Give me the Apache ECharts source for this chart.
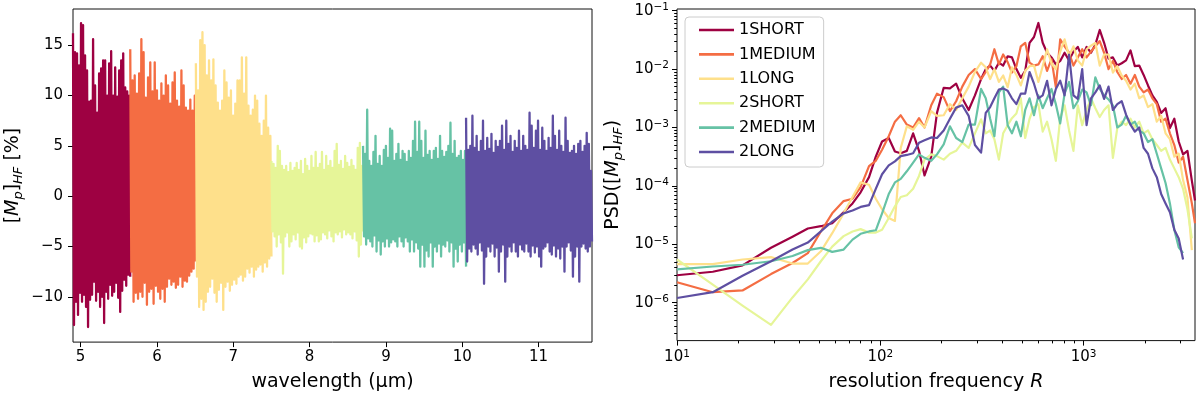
<!DOCTYPE html>
<html>
<head>
<meta charset="utf-8">
<script src="https://cdn.jsdelivr.net/npm/echarts@6/dist/echarts.min.js"></script>
<style>
html, body { margin: 0; background: #fff; }
#chart { width: 1200px; height: 399px; }
</style>
</head>
<body>
<div id="chart"></div>
<script>
// detector bands
var bandNames = ['1SHORT', '1MEDIUM', '1LONG', '2SHORT', '2MEDIUM', '2LONG'];
var bandColors = ['#9e0142', '#f46d43', '#fee08b', '#e6f598', '#66c2a5', '#5e4fa2'];
// band edges in µm
var wlEdges = [4.90, 5.65, 6.51, 7.50, 8.70, 10.05, 11.70];

// left panel: high-frequency residual [%], peaks and troughs read per band
var band1Top = [16.2, 14.3, 14.2, 13, 17.2, 17, 14, 12.5, 9.4, 9.5, 15.6, 11, 8.3, 12.2, 12.7, 13.5, 13.5, 10, 13.2, 14.4, 10, 12.8, 9.9, 12.5, 13.5, 14.2, 10.8, 10.4, 10];
var band1Bottom = [-12.8, -10.5, -11.8, -9.6, -10.5, -9.8, -11, -13, -10.3, -9.8, -8.5, -10.4, -9.5, -11, -10, -12.6, -9.5, -10.2, -8.8, -9.9, -9.5, -8.6, -10.1, -11.5, -9.4, -8.3, -8.9, -7.8, -8];
var band2Top = [14.6, 11.5, 12, 10.2, 12.2, 15.6, 14.3, 9.8, 11.8, 13.3, 10.4, 13.3, 10.5, 9.5, 11.2, 10, 12, 11, 9.2, 11.3, 12.3, 9.5, 8.9, 12.5, 11, 8.8, 8.5, 9.6, 8.5, 10];
var band2Bottom = [-7.5, -10.5, -9.6, -10.2, -9.5, -10, -8.6, -10.8, -9.5, -9.2, -10.7, -8.9, -9.5, -10.2, -9.2, -10.5, -9, -8.2, -8.8, -8.5, -9.1, -8.8, -8, -9, -8.4, -8.5, -7.9, -7.5, -7.2, -6.5];
var band3Top = [13.2, 10.5, 15.5, 16.3, 15, 12, 13.5, 11.5, 13.6, 11, 9.3, 8.5, 9.5, 12.5, 11.3, 9.8, 10.5, 8, 9.2, 11.5, 11.5, 13.8, 10.2, 13.8, 9, 8, 8.6, 10, 9.5, 7.2, 6, 7.5, 10, 6.8, 6];
var band3Bottom = [-8, -11, -10.2, -11.3, -10.5, -9.5, -9, -8.2, -9.6, -10.5, -9.3, -8.6, -11.3, -9, -8.5, -9.4, -8.8, -8.3, -8.7, -8, -7.8, -8.4, -8, -7.2, -7.6, -7, -8, -7.3, -7, -6.8, -7.5, -6.6, -7, -6.2, -6];
var band4Top = [3.5, 3.2, 2.8, 5, 4.5, 3, 2.6, 3, 2.4, 3.3, 2.5, 2.8, 3.3, 2.6, 3.5, 2.2, 3.7, 3, 2.5, 4, 2.8, 4.4, 2.8, 3.2, 4.4, 2.6, 4, 3, 3.5, 2.8, 4.5, 5.2, 3.1, 3.5, 2.7, 4, 3.3, 2.9, 3.6, 3, 2.6, 4.8, 5.3, 3];
var band4Bottom = [-3.5, -4, -5, -3.8, -4.6, -7.7, -4, -3.6, -5, -4.5, -3.8, -4.3, -3.6, -5, -5.2, -4.1, -4.6, -4, -3.7, -3.8, -4.5, -3.9, -4.5, -4.3, -3.6, -3.8, -4.2, -3.4, -4, -4.5, -3.6, -3.8, -3.5, -4.1, -3.3, -3.8, -3.6, -3.8, -4.2, -3.5, -4.4, -6, -4.8, -3.5];
var band5Top = [5, 4.2, 8.6, 3.5, 3, 4.4, 6, 3.2, 4, 3, 4.6, 5, 3.8, 6.7, 6.5, 3.5, 4.2, 5.2, 3.6, 4.5, 4.2, 3.4, 4.5, 3.8, 5.5, 7.4, 4.4, 7.4, 5.5, 3.8, 6.5, 4.1, 4.5, 3.6, 4.5, 4.8, 3.7, 6, 4.5, 3.9, 4.4, 5, 7.3, 4.2, 5.5, 3.8, 4, 4.5, 3.6, 4.5];
var band5Bottom = [-4, -4.8, -4.2, -4.5, -5, -3.9, -5.5, -4.4, -5.8, -4.5, -5, -4.2, -5, -4.6, -4.3, -4.5, -5, -4, -4.5, -5, -4.1, -4.5, -5.5, -4.3, -5.5, -4.6, -5.2, -7, -4.8, -7, -5.4, -6, -4.6, -7, -5, -5.5, -4.7, -6, -4.8, -5, -4.4, -5.5, -4.6, -7, -5.2, -6.5, -4.8, -5.5, -4.6, -7];
var band6Top = [7.8, 4.6, 5, 8, 4.8, 6, 4.4, 5.5, 7.5, 4.5, 5.8, 4.7, 6.2, 4.3, 5.5, 4.9, 5.5, 7, 4.6, 7.5, 5.2, 6, 4.4, 5.5, 4.8, 6.5, 4.5, 6, 5, 4.6, 8.3, 7, 4.8, 6.5, 7.5, 4.6, 6.8, 5.5, 4.5, 5.8, 4.8, 8, 6, 4.6, 6.5, 5, 4.4, 7.8, 5.5, 4.3, 4.5, 5, 4.2, 5.2, 5.5, 4.4, 5, 6.3, 5.2, 2.5];
var band6Bottom = [-6.5, -5.2, -5.5, -4.8, -5.2, -5.8, -4.6, -5.4, -8.7, -6, -5, -5.5, -4.7, -6, -5.1, -7.5, -5.5, -4.8, -8.5, -6, -5, -5.5, -4.6, -5.5, -6, -4.8, -5.3, -5.5, -4.7, -5.5, -6, -4.9, -5.6, -5, -6, -7, -5.2, -5, -4.6, -5.5, -5.8, -4.9, -6, -5.2, -6.2, -5, -7.5, -5, -4.6, -5.4, -8, -6, -5, -8.5, -5, -4.7, -5.2, -5.5, -5, -4.5];

var bandTops = [band1Top, band2Top, band3Top, band4Top, band5Top, band6Top];
var bandBottoms = [band1Bottom, band2Bottom, band3Bottom, band4Bottom, band5Bottom, band6Bottom];

// right panel: resolution frequency R and log10 of the PSD per band
var resolution = [10, 15, 21, 29, 37, 44, 51, 58, 66, 73, 80, 88, 95, 102, 110, 118, 126, 135, 145, 155, 165, 178, 190, 205, 220, 236, 253, 272, 292,
  313, 330, 347, 364, 383, 402, 423, 444, 467, 491, 516, 542, 570, 599, 629, 661, 695, 730, 767, 806, 848, 891, 936, 984, 1034, 1087, 1142, 1200, 1261, 1326,
  1393, 1464, 1539, 1617, 1700, 1786, 1877, 1973, 2073, 2179, 2290, 2406, 2529, 2657, 2793, 2935, 3084, 3241, 3406, 3530];
var logPsd1Short = [-5.53, -5.47, -5.36, -5.06, -4.87, -4.73, -4.69, -4.64, -4.45, -4.30, -4.11, -3.85, -3.50, -3.24, -3.18, -3.41, -3.44, -3.40, -3.10, -3.40, -3.82, -3.50, -2.75, -2.32, -2.33, -2.25, -2.50, -2.70, -2.45,
  -2.17, -2.00, -1.94, -2.03, -1.89, -1.94, -1.78, -1.80, -2.00, -2.15, -2.03, -1.55, -1.45, -1.21, -1.55, -1.72, -1.80, -1.92, -1.86, -1.72,
  -1.85, -1.70, -1.62, -1.80, -1.62, -1.72, -1.58, -1.33, -1.55, -1.82, -1.80, -1.94, -1.90, -1.85, -1.68, -1.95, -1.94, -2.10, -2.28, -2.45,
  -2.56, -2.75, -2.67, -3.01, -2.85, -3.24, -3.46, -3.40, -3.91, -4.25];
var logPsd1Medium = [-5.65, -5.82, -5.79, -5.51, -5.32, -5.15, -4.78, -4.47, -4.26, -4.22, -4.02, -3.66, -3.57, -3.38, -3.15, -2.90, -2.79, -2.95, -3.00, -2.84, -3.00, -2.62, -2.42, -2.48, -2.72, -2.55, -2.30, -2.10, -2.00,
  -2.17, -2.05, -1.92, -1.66, -1.92, -1.75, -1.88, -2.06, -1.95, -1.61, -1.55, -1.89, -1.94, -1.92, -1.78, -2.03, -1.83, -2.31, -1.49, -1.61,
  -1.72, -1.94, -1.80, -1.66, -1.80, -1.70, -1.61, -1.52, -1.72, -2.00, -1.86, -2.05, -2.17, -2.10, -2.25, -2.10, -2.30, -2.40, -2.35, -2.50,
  -2.60, -2.90, -2.85, -3.10, -3.30, -3.60, -3.50, -3.90, -4.30, -4.64];
var logPsd1Long = [-5.34, -5.34, -5.26, -5.22, -5.33, -5.33, -5.12, -4.81, -4.47, -4.19, -3.94, -3.98, -4.22, -4.40, -4.55, -4.60, -3.35, -2.98, -3.04, -2.90, -3.00, -2.72, -2.80, -2.79, -2.60, -2.70, -2.50, -2.30, -2.05,
  -1.89, -1.97, -2.17, -2.00, -2.22, -2.11, -2.31, -1.97, -2.10, -2.28, -2.03, -1.95, -1.94, -2.22, -1.95, -1.66, -1.90, -2.00, -1.70, -1.49,
  -1.78, -1.61, -1.85, -1.94, -1.66, -1.60, -1.55, -1.94, -1.75, -1.75, -2.06, -1.95, -2.11, -2.20, -2.35, -2.25, -2.50, -2.45, -2.65, -2.60,
  -2.90, -2.80, -3.10, -3.20, -3.50, -3.45, -3.90, -4.20, -5.10];
var logPsd2Short = [-5.26, -5.69, -6.05, -6.38, -5.91, -5.60, -5.29, -5.04, -4.86, -4.78, -4.74, -4.80, -4.80, -4.75, -4.55, -4.35, -4.19, -4.16, -4.05, -3.83, -3.55, -3.46, -3.49, -3.55, -3.45, -3.40, -3.26, -3.35, -3.10,
  -2.86, -3.10, -3.05, -3.20, -3.55, -3.10, -2.96, -2.84, -2.76, -2.50, -3.18, -2.85, -2.65, -2.60, -3.07, -2.90, -3.20, -3.57, -2.84, -2.62,
  -3.05, -3.40, -2.62, -2.96, -2.70, -2.50, -2.67, -2.82, -2.70, -2.62, -3.52, -3.01, -2.90, -2.96, -2.85, -3.00, -2.90, -3.10, -3.05, -3.20,
  -3.30, -3.40, -3.35, -3.55, -3.70, -3.85, -4.05, -4.40, -4.90];
var logPsd2Medium = [-5.43, -5.38, -5.35, -5.29, -5.20, -5.10, -5.06, -5.13, -5.09, -4.92, -4.82, -4.78, -4.76, -4.47, -4.14, -3.94, -3.88, -3.75, -3.60, -3.46, -3.52, -3.57, -3.46, -3.29, -2.98, -3.18, -3.25, -2.95, -2.95,
  -2.34, -2.50, -2.85, -3.15, -2.40, -2.30, -2.96, -3.10, -2.90, -3.15, -2.70, -2.50, -2.79, -2.45, -2.67, -2.50, -2.34, -2.60, -2.93, -2.42,
  -2.22, -2.67, -2.55, -2.35, -2.40, -2.62, -2.14, -2.34, -2.45, -2.52, -2.62, -3.00, -2.95, -2.80, -2.95, -2.90, -3.05, -3.10, -3.25, -3.20,
  -3.45, -3.70, -3.95, -4.30, -4.75, -5.05, -5.15];
var logPsd2Long = [-5.92, -5.82, -5.54, -5.29, -5.09, -4.97, -4.78, -4.61, -4.47, -4.42, -4.36, -4.33, -4.05, -3.80, -3.65, -3.58, -3.49, -3.47, -3.44, -3.26, -3.22, -3.17, -3.18, -3.05, -2.85, -2.66, -2.62, -2.80, -3.30,
  -3.43, -2.75, -2.65, -2.50, -2.35, -2.33, -2.37, -2.50, -2.60, -2.42, -2.42, -2.05, -2.25, -2.50, -2.45, -2.20, -2.62, -2.34, -2.20, -2.45,
  -1.75, -2.45, -2.51, -2.00, -2.96, -2.50, -2.40, -2.28, -2.51, -2.30, -2.70, -2.60, -2.55, -2.78, -2.95, -3.07, -3.00, -3.35, -3.45, -3.70,
  -3.85, -4.14, -4.30, -4.45, -4.75, -4.90, -5.26];
var logPsd = [logPsd1Short, logPsd1Medium, logPsd1Long, logPsd2Short, logPsd2Medium, logPsd2Long];

// tick labels
var wlTicks = [5, 6, 7, 8, 9, 10, 11];
var residTicks = [-10, -5, 0, 5, 10, 15];
var freqDecades = [1, 2, 3];
var psdDecades = [-6, -5, -4, -3, -2, -1];

var FONT = 'DejaVu Sans';
var INK = '#000';
var xMaxLog = Math.log10(3530);

function minorLog(lo, hi) {
  var out = [];
  for (var e = lo; e <= hi; e++) {
    for (var k = 2; k <= 9; k++) out.push(e + Math.log10(k));
  }
  return out;
}

function zigzag(b) {
  var top = bandTops[b], bot = bandBottoms[b];
  var n = Math.min(top.length, bot.length);
  var vals = [];
  for (var i = 0; i < n; i++) { vals.push(top[i]); vals.push(bot[i]); }
  var x0 = wlEdges[b], x1 = wlEdges[b + 1];
  return vals.map(function (v, i) { return [x0 + (x1 - x0) * i / (vals.length - 1), v]; });
}

function powLabel(v) {
  var e = Math.round(v);
  return '{b|10}{s|' + (e < 0 ? '\u2212' : '') + Math.abs(e) + '}';
}

var tickLabel = { fontFamily: FONT, fontSize: 15, color: INK };
var powRich = {
  b: { fontFamily: FONT, fontSize: 15, color: INK, lineHeight: 18 },
  s: { fontFamily: FONT, fontSize: 10.5, color: INK, lineHeight: 8, verticalAlign: 'top' }
};
var nameStyle = {
  fontFamily: FONT, fontSize: 19, color: INK, lineHeight: 24,
  rich: {
    i: { fontFamily: FONT, fontSize: 19, fontStyle: 'italic', color: INK, lineHeight: 24 },
    sub: { fontFamily: FONT, fontSize: 13, fontStyle: 'italic', color: INK, lineHeight: 14, verticalAlign: 'bottom' }
  }
};
var tickLine = { color: INK, width: 1 };

var series = [];
bandNames.forEach(function (name, b) {
  series.push({
    name: 'wl-' + name, type: 'line', xAxisIndex: 0, yAxisIndex: 0,
    data: zigzag(b), showSymbol: false, symbol: 'none', silent: true,
    lineStyle: { color: bandColors[b], width: 2.3, join: 'round' }
  });
});
bandNames.forEach(function (name, b) {
  series.push({
    name: name, type: 'line', xAxisIndex: 1, yAxisIndex: 1,
    data: logPsd[b].map(function (v, i) { return [Math.log10(resolution[i]), v]; }),
    showSymbol: false, symbol: 'none', color: bandColors[b],
    lineStyle: { color: bandColors[b], width: 2.2, join: 'round' }
  });
});

var myChart = echarts.init(document.getElementById('chart'));
myChart.setOption({
  animation: false,
  backgroundColor: '#fff',
  grid: [
    { left: 73, right: 608, top: 9, bottom: 53, show: true, borderColor: '#111', borderWidth: 1, backgroundColor: 'transparent' },
    { left: 677, right: 5, top: 9, bottom: 53, show: true, borderColor: '#111', borderWidth: 1, backgroundColor: 'transparent' }
  ],
  legend: {
    data: bandNames, orient: 'vertical', left: 685, top: 17,
    icon: 'rect', itemWidth: 35, itemHeight: 2.6, itemGap: 8.4, padding: [5, 8, 7, 14],
    textStyle: { fontFamily: FONT, fontSize: 16, color: INK, lineHeight: 16 },
    backgroundColor: 'rgba(255,255,255,0.8)', borderColor: '#cccccc', borderWidth: 1, borderRadius: 4,
    selectedMode: false
  },
  xAxis: [
    {
      gridIndex: 0, type: 'value', min: 4.90, max: 11.70,
      axisLine: { show: false, onZero: false },
      axisTick: { length: 5, lineStyle: tickLine, customValues: wlTicks },
      axisLabel: Object.assign({ customValues: wlTicks, margin: 8 }, tickLabel),
      splitLine: { show: false },
      name: 'wavelength (\u00b5m)', nameLocation: 'middle', nameGap: 27, nameTextStyle: nameStyle
    },
    {
      gridIndex: 1, type: 'value', min: 1, max: xMaxLog, position: 'bottom',
      axisLine: { show: false, onZero: false },
      axisTick: { length: 5, lineStyle: tickLine, customValues: freqDecades },
      axisLabel: { customValues: freqDecades, margin: 8, formatter: powLabel, rich: powRich },
      splitLine: { show: false },
      name: 'resolution frequency {i|R}', nameLocation: 'middle', nameGap: 27, nameTextStyle: nameStyle
    },
    {
      gridIndex: 1, type: 'value', min: 1, max: xMaxLog, position: 'bottom',
      axisLine: { show: false, onZero: false },
      axisTick: { length: 2.8, lineStyle: tickLine, customValues: minorLog(1, 3).filter(function (v) { return v < xMaxLog; }) },
      axisLabel: { show: false },
      splitLine: { show: false }
    }
  ],
  yAxis: [
    {
      gridIndex: 0, type: 'value', min: -14.5, max: 18.6,
      axisLine: { show: false, onZero: false },
      axisTick: { length: 5, lineStyle: tickLine, customValues: residTicks },
      axisLabel: Object.assign({
        customValues: residTicks, margin: 10,
        formatter: function (v) { return String(v).replace('-', '\u2212'); }
      }, tickLabel),
      splitLine: { show: false },
      name: '[{i|M}{sub|p}]{sub|HF} [%]', nameLocation: 'middle', nameRotate: 90, nameGap: 48, nameTextStyle: nameStyle
    },
    {
      gridIndex: 1, type: 'value', min: -6.649, max: -0.971, position: 'left',
      axisLine: { show: false, onZero: false },
      axisTick: { length: 5, lineStyle: tickLine, customValues: psdDecades },
      axisLabel: { customValues: psdDecades, margin: 8, formatter: powLabel, rich: powRich },
      splitLine: { show: false },
      name: 'PSD([{i|M}{sub|p}]{sub|HF})', nameLocation: 'middle', nameRotate: 90, nameGap: 52, nameTextStyle: nameStyle
    },
    {
      gridIndex: 1, type: 'value', min: -6.649, max: -0.971, position: 'left',
      axisLine: { show: false, onZero: false },
      axisTick: { length: 2.8, lineStyle: tickLine, customValues: minorLog(-7, -2).filter(function (v) { return v > -6.649 && v < -0.971; }) },
      axisLabel: { show: false },
      splitLine: { show: false }
    }
  ],
  series: series
});
window.addEventListener('resize', function () { myChart.resize(); });
</script>
</body>
</html>
